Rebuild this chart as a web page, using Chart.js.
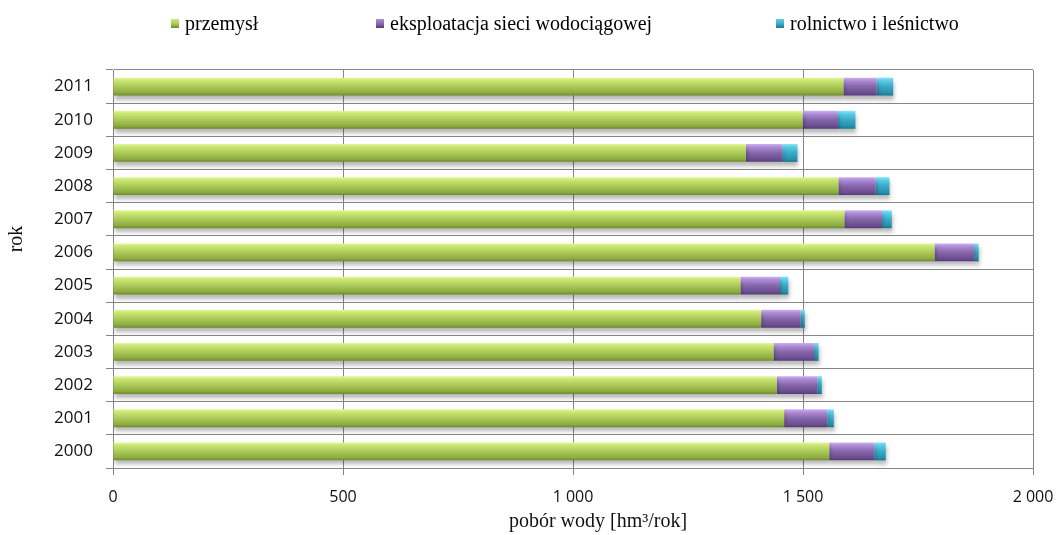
<!DOCTYPE html>
<html lang="pl">
<head>
    <meta charset="UTF-8">
    <title>Pobór wody 2000–2011</title>
    <script src="https://cdn.jsdelivr.net/npm/chart.js"></script>
    <style>
        body {
            margin: 0;
            background: #fff;
        }
        .wrap {
            position: relative;
            width: 1057px;
            height: 535px;
        }
        .legend {
            position: absolute;
            top: 0;
            left: 0;
            width: 100%;
            height: 44px;
            font-family: "Liberation Serif", "Times New Roman", serif;
            font-size: 20px;
            color: #000;
        }
        .legend .item {
            position: absolute;
            top: 12px;
            display: flex;
            align-items: center;
            white-space: nowrap;
        }
        .legend .box {
            display: inline-block;
            width: 8px;
            height: 9px;
            margin-right: 6px;
        }
    </style>
</head>
<body>
    <div class="wrap">
        <canvas id="wykres" width="1057" height="535"></canvas>
        <div class="legend" id="legenda"></div>
    </div>

    <script>
        // lata i pobór wody wg sektorów [hm3/rok]
        const lata = ['2000', '2001', '2002', '2003', '2004', '2005', '2006', '2007', '2008', '2009', '2010', '2011'];
        const przemysl = [1557, 1459, 1443, 1436, 1409, 1364, 1786, 1590, 1577, 1376, 1499, 1588];
        const siecWodociagowa = [98, 94, 88, 88, 86, 86, 86, 82, 81, 79, 77, 72];
        const rolnictwo = [25, 14, 10, 10, 9, 18, 10, 21, 30, 33, 38, 36];
        const nazwySerii = ['przemysł', 'eksploatacja sieci wodociągowej', 'rolnictwo i leśnictwo'];
        const osX = [0, 500, 1000, 1500, 2000];

        const BAR_PCT = 0.54;
        const szary = '#868686';

        // kolory "3D": jasna krawędź u góry, ciemna u dołu
        const odcienie = [
            ['#e4f79a', '#cce776', '#abca58', '#8dab40', '#6c882b'],
            ['#d0b2f2', '#b18fd9', '#8566aa', '#6b4e8f', '#553a78'],
            ['#8be6f5', '#5fcfe6', '#38abc8', '#2890ae', '#1b7590']
        ];

        function gradient(stops) {
            return (c) => {
                const chart = c.chart;
                const area = chart.chartArea;
                const y = chart.scales.y;
                if (!area || !y) return stops[2];
                const row = (area.bottom - area.top) / lata.length;
                const half = row * BAR_PCT / 2;
                const mid = y.getPixelForValue(c.dataIndex);
                const g = chart.ctx.createLinearGradient(0, mid - half, 0, mid + half);
                g.addColorStop(0, stops[0]);
                g.addColorStop(0.15, stops[1]);
                g.addColorStop(0.5, stops[2]);
                g.addColorStop(0.85, stops[3]);
                g.addColorStop(1, stops[4]);
                return g;
            };
        }

        // cień pod słupkami
        const cien = {
            id: 'cien',
            beforeDatasetsDraw(chart) {
                const ctx = chart.ctx;
                ctx.save();
                ctx.shadowColor = 'rgba(0, 0, 0, 0.28)';
                ctx.shadowBlur = 4;
                ctx.shadowOffsetX = 1;
                ctx.shadowOffsetY = 4;
            },
            afterDatasetsDraw(chart) {
                chart.ctx.restore();
            }
        };

        const tysiace = v => v >= 1000 ? Math.floor(v / 1000) + ' ' + String(v % 1000).padStart(3, '0') : String(v);

        const fontX = { family: '"Open Sans", sans-serif', size: 16 };
        const fontY = { family: '"Open Sans", sans-serif', size: 17 };
        const fontTytul = { family: '"Liberation Serif", "Times New Roman", serif', size: 20 };

        const serie = [przemysl, siecWodociagowa, rolnictwo];

        new Chart(document.getElementById('wykres'), {
            type: 'bar',
            data: {
                labels: lata,
                datasets: serie.map((dane, i) => ({
                    label: nazwySerii[i],
                    data: dane,
                    backgroundColor: gradient(odcienie[i]),
                    borderWidth: 0,
                    barPercentage: BAR_PCT,
                    categoryPercentage: 1
                }))
            },
            options: {
                indexAxis: 'y',
                responsive: false,
                animation: false,
                layout: { padding: { top: 70, right: 24, left: 0, bottom: 0 } },
                plugins: {
                    legend: { display: false },
                    tooltip: { enabled: false }
                },
                scales: {
                    x: {
                        stacked: true,
                        min: osX[0],
                        max: osX[osX.length - 1],
                        ticks: {
                            stepSize: osX[1] - osX[0],
                            padding: 13,
                            color: '#111',
                            font: fontX,
                            callback: v => tysiace(v)
                        },
                        grid: { color: szary, tickLength: 7 },
                        border: { color: szary },
                        title: {
                            display: true,
                            text: '\u2002\u2002\u2002\u2002\u2002pobór wody [hm³/rok]',
                            color: '#111',
                            font: fontTytul,
                            padding: { top: 0, bottom: 1 }
                        },
                        afterFit: s => {
                            s.height = 67;
                            s.paddingRight = 24;
                        }
                    },
                    y: {
                        stacked: true,
                        reverse: true,
                        ticks: { padding: 13, color: '#111', font: fontY },
                        grid: { color: szary, tickLength: 7 },
                        border: { color: szary },
                        title: {
                            display: true,
                            text: '\u2002\u2002\u2002\u2002\u2002\u2002rok',
                            color: '#111',
                            font: fontTytul,
                            padding: { top: 5, bottom: 0 }
                        },
                        afterFit: s => { s.width = 113; }
                    }
                }
            },
            plugins: [cien]
        });

        // legenda nad wykresem
        const legendaX = [171, 376, 776];
        const legenda = document.getElementById('legenda');
        nazwySerii.forEach((nazwa, i) => {
            const item = document.createElement('span');
            item.className = 'item';
            item.style.left = legendaX[i] + 'px';
            const box = document.createElement('span');
            box.className = 'box';
            const o = odcienie[i];
            box.style.background = `linear-gradient(${o[1]}, ${o[2]} 55%, ${o[4]})`;
            item.appendChild(box);
            item.appendChild(document.createTextNode(nazwa));
            legenda.appendChild(item);
        });
    </script>
</body>
</html>
